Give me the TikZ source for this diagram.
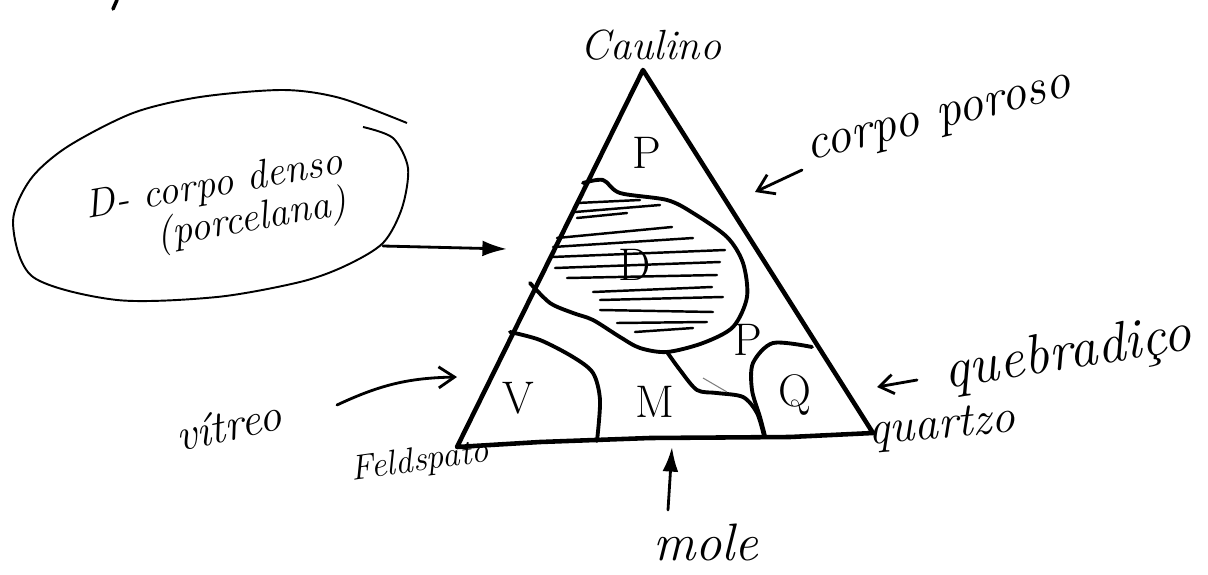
\documentclass[tikz,border=0pt]{standalone}
\usepackage{fontspec}
\usetikzlibrary{arrows.meta}

\tikzset{
  hand/.style={font=\itshape\fontsize{#1}{#1}\selectfont, inner sep=1pt},
  region/.style={font=\fontsize{26}{26}\selectfont, inner sep=1pt},
  border/.style={line width=2.2pt, line join=round, line cap=round},
  hatch/.style={line width=1.4pt, line cap=round},
  pointer/.style={line width=1.6pt, line cap=round},
}

\begin{document}
\begin{tikzpicture}[x=0.02cm, y=-0.02cm, >=Latex]
\useasboundingbox (0,0) rectangle (1208,575);

% triangle
\coordinate (top) at (643,70);
\coordinate (right) at (873,433);
\coordinate (left) at (457,447);
\draw[line width=2.6pt, line join=round] (top) -- (right) -- (790,437) -- (650,438) -- (540,442) -- (left) -- cycle;

% regions inside
\draw[border] plot[smooth] coordinates {(583,183) (603,180) (620,193) (667,200) (693,213) (727,237) (743,263) (747,297) (733,327) (703,343) (667,352) (640,348) (620,337) (593,320) (573,313) (550,303) (530,283)};
\draw[border] plot[smooth] coordinates {(667,352) (680,370) (697,390) (717,393) (743,397) (757,413) (764,436)};
\draw[border] plot[smooth] coordinates {(510,332) (540,340) (573,357) (593,373) (600,400) (597,441)};
\draw[border] plot[smooth] coordinates {(812,347) (773,343) (753,363) (752,390) (760,417) (765,436)};
\draw[line width=0.6pt, gray] (703,378) -- (727,392);

% hatching of D
\foreach \xa/\ya/\xb/\yb in {577/203/640/200, 575/212/660/205, 577/218/627/213, 557/238/672/227,
  553/247/693/238, 552/257/725/250, 555/268/720/262, 567/278/717/275, 593/292/712/287,
  600/300/723/297, 600/310/713/312, 617/323/707/322, 635/332/693/328}
  \draw[hatch] (\xa,\ya) -- (\xb,\yb);

% region letters
\node[region] (P1) at (647,153) {P};
\node[region] (D) at (635,265) {D};
\node[region] (P2) at (748,340) {P};
\node[region] (V) at (518,398) {V};
\node[region] (M) at (655,402) {M};
\node[region] (Q) at (795,395) {Q};

% labels
\node[hand=24] (caulino) at (651,45) {Caulino};
\node[hand=29, rotate=14] (poroso) at (940,122) {corpo poroso};
\node[hand=32, rotate=9] (quebr) at (1068,355) {quebradiço};
\node[hand=27, rotate=5] (quartzo) at (942,428) {quartzo};
\node[hand=20, rotate=8] (feld) at (420,462) {Feldspato};
\node[hand=26, rotate=12] (vitreo) at (228,425) {vítreo};
\node[hand=30] (mole) at (706,542) {mole};
\node[hand=23, rotate=10, align=left] (denso) at (218,207) {D- corpo denso\\\hspace*{1.6em}(porcelana)};

% ellipse round the note
\draw[line width=1.1pt] plot[smooth] coordinates {(363,127) (393,138) (408,168) (402,208) (383,243) (345,266) (300,282) (217,297) (117,300) (33,277) (13,223) (30,180) (67,147) (133,113) (200,97) (283,90) (340,98) (407,123)};
\draw[line width=2pt, line cap=round] (117,0) -- (113,9);

% arrows
\coordinate (densoTail) at (383,246);
\coordinate (densoTip) at (507,249);
\coordinate (porosoTail) at (802,170);
\coordinate (porosoTip) at (755,192);
\coordinate (quebrTail) at (917,380);
\coordinate (quebrTip) at (877,387);
\coordinate (vitreoTail) at (337,405);
\coordinate (vitreoTip) at (457,377);
\coordinate (moleTail) at (668,510);
\coordinate (moleTip) at (672,447);
\draw[pointer, -{Latex[length=14pt, width=9pt]}] (densoTail) -- (densoTip);
\draw[pointer, -{Straight Barb[length=9pt, width=12pt]}] (porosoTail) -- (porosoTip);
\draw[pointer, -{Straight Barb[length=8pt, width=11pt]}] (quebrTail) -- (quebrTip);
\draw[pointer, -{Straight Barb[length=9pt, width=12pt]}] (vitreoTail) to[bend left=12] (vitreoTip);
\draw[pointer, -{Latex[length=14pt, width=9pt]}] (moleTail) -- (moleTip);
\end{tikzpicture}
\end{document}
